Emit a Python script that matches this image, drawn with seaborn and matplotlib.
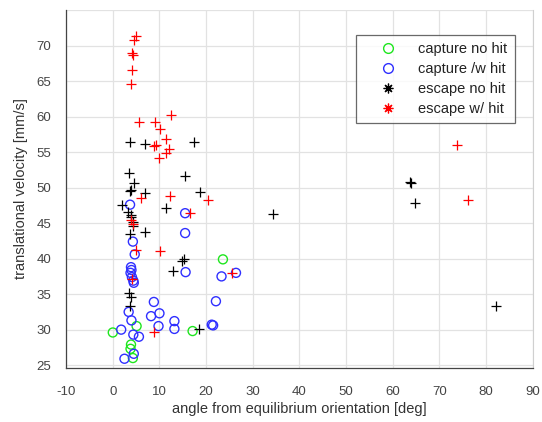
import numpy as np
import pandas as pd
import matplotlib
matplotlib.use('Agg')
import matplotlib.pyplot as plt
from matplotlib.lines import Line2D
import seaborn as sns

# angle [deg], velocity [mm/s] per group
capture_nohit_x = [0.0, 5.1, 23.6, 17.1, 3.9, 3.8, 4.3]
capture_nohit_y = [29.6, 30.5, 39.9, 29.8, 27.9, 27.3, 26.0]

capture_hit_x = [3.7, 15.5, 15.5, 4.3, 4.7, 3.9, 4.0, 3.8, 4.1, 4.4, 4.5, 15.6,
                 23.3, 26.4, 22.1, 8.8, 10.0, 8.2, 3.4, 4.0, 13.2, 13.2, 9.8,
                 1.8, 4.4, 5.6, 21.2, 21.5, 2.5, 4.5]
capture_hit_y = [47.6, 46.4, 43.6, 42.4, 40.6, 38.8, 38.4, 38.0, 37.4, 36.9, 36.6, 38.1,
                 37.5, 38.0, 34.0, 33.9, 32.3, 31.9, 32.5, 31.3, 31.2, 30.1, 30.5,
                 30.0, 29.3, 29.0, 30.7, 30.6, 25.9, 26.6]

escape_nohit_x = [3.6, 6.9, 17.4, 15.4, 3.4, 4.5, 3.6, 3.8, 6.9, 18.6, 1.9, 11.4,
                  3.2, 3.8, 3.9, 4.3, 4.3, 3.6, 7.0, 15.3, 14.9, 12.9, 3.5, 3.9,
                  3.7, 18.5, 34.3, 63.6, 63.9, 64.8, 82.1]
escape_nohit_y = [56.4, 56.1, 56.4, 51.7, 52.0, 50.7, 49.5, 49.7, 49.3, 49.4, 47.6, 47.1,
                  46.5, 46.2, 45.8, 45.1, 44.6, 43.5, 43.7, 40.0, 39.7, 38.3, 35.1, 34.6,
                  33.3, 30.1, 46.3, 50.8, 50.6, 47.8, 33.3]

escape_hit_x = [4.9, 4.5, 4.1, 4.3, 4.1, 3.9, 5.6, 9.0, 12.4, 10.2, 11.3, 9.3, 8.9,
                12.1, 11.3, 10.0, 6.0, 12.2, 20.5, 16.5, 3.8, 4.4, 4.9, 10.2,
                25.5, 8.9, 73.7, 76.1, 4.1]
escape_hit_y = [71.3, 70.8, 69.0, 68.7, 66.6, 64.6, 59.3, 59.3, 60.2, 58.2, 56.8, 56.0, 55.9,
                55.4, 54.9, 54.2, 48.6, 48.8, 48.3, 46.4, 45.4, 44.9, 41.2, 41.1,
                38.0, 29.7, 56.0, 48.2, 37.2]

labels = ['capture no hit', 'capture /w hit', 'escape no hit', 'escape w/ hit']
colors = ['#1ee61e', '#2f2fff', '#000000', '#ff0000']

df = pd.concat([
    pd.DataFrame({'angle': capture_nohit_x, 'vel': capture_nohit_y, 'group': labels[0]}),
    pd.DataFrame({'angle': capture_hit_x, 'vel': capture_hit_y, 'group': labels[1]}),
    pd.DataFrame({'angle': escape_nohit_x, 'vel': escape_nohit_y, 'group': labels[2]}),
    pd.DataFrame({'angle': escape_hit_x, 'vel': escape_hit_y, 'group': labels[3]}),
], ignore_index=True)

sns.set_style('white')
plt.rcParams['font.family'] = ['Liberation Sans', 'DejaVu Sans']
plt.rcParams['axes.unicode_minus'] = False

fig = plt.figure(figsize=(5.42, 4.22), dpi=100)
ax = fig.add_axes([0.122, 0.128, 0.861, 0.848])

for lab, col in zip(labels, colors):
    sub = df[df['group'] == lab]
    if lab.startswith('capture'):
        sns.scatterplot(data=sub, x='angle', y='vel', marker='o', s=42,
                        color=col, linewidth=1.0, ax=ax, legend=False, zorder=3)
        pts = ax.collections[-1]
        pts.set_edgecolors(col)
        pts.set_facecolors('none')
    else:
        sns.scatterplot(data=sub, x='angle', y='vel', marker='+', s=60,
                        color=col, linewidth=0.9, ax=ax, legend=False, zorder=3)

ax.set_xlim(-10, 90)
ax.set_ylim(24.6, 74.9)
ax.set_xticks(np.arange(-10, 91, 10))
ax.set_yticks(np.arange(25, 76, 5))
ax.set_yticklabels([str(v) for v in range(25, 71, 5)] + [''])
ax.grid(True, color='#e2e2e2', linewidth=0.9)
ax.set_axisbelow(True)

for side in ['left', 'bottom']:
    ax.spines[side].set_color('#444444')
    ax.spines[side].set_linewidth(0.9)
ax.spines['top'].set_visible(False)
ax.spines['right'].set_color('#d0d0d0')

ax.tick_params(axis='both', direction='out', length=7, width=0.8, color='#444444',
               labelsize=9.5, labelcolor='#444444')
ax.tick_params(axis='x', pad=6)
ax.set_xlabel('angle from equilibrium orientation [deg]', fontsize=10.5,
              color='#333333', labelpad=3)
ax.set_ylabel('translational velocity [mm/s]', fontsize=10.5,
              color='#333333', labelpad=6)

handles = [
    Line2D([], [], linestyle='none', marker='o', markersize=7, markerfacecolor='none',
           markeredgecolor=colors[0], markeredgewidth=1.0),
    Line2D([], [], linestyle='none', marker='o', markersize=7, markerfacecolor='none',
           markeredgecolor=colors[1], markeredgewidth=1.0),
    Line2D([], [], linestyle='none', marker=(8, 2, 0), markersize=7,
           color=colors[2], markeredgewidth=0.9),
    Line2D([], [], linestyle='none', marker=(8, 2, 0), markersize=7,
           color=colors[3], markeredgewidth=0.9),
]
leg = ax.legend(handles, labels, loc='upper right', bbox_to_anchor=(0.961, 0.93),
                borderaxespad=0, fontsize=10.5, frameon=True, fancybox=False,
                handletextpad=0.35, labelspacing=0.4, borderpad=0.5,
                handlelength=3.4)
leg.get_frame().set_edgecolor('#444444')
leg.get_frame().set_linewidth(0.9)
for t in leg.get_texts():
    t.set_color('#222222')

fig.savefig('out.png', dpi=100)
